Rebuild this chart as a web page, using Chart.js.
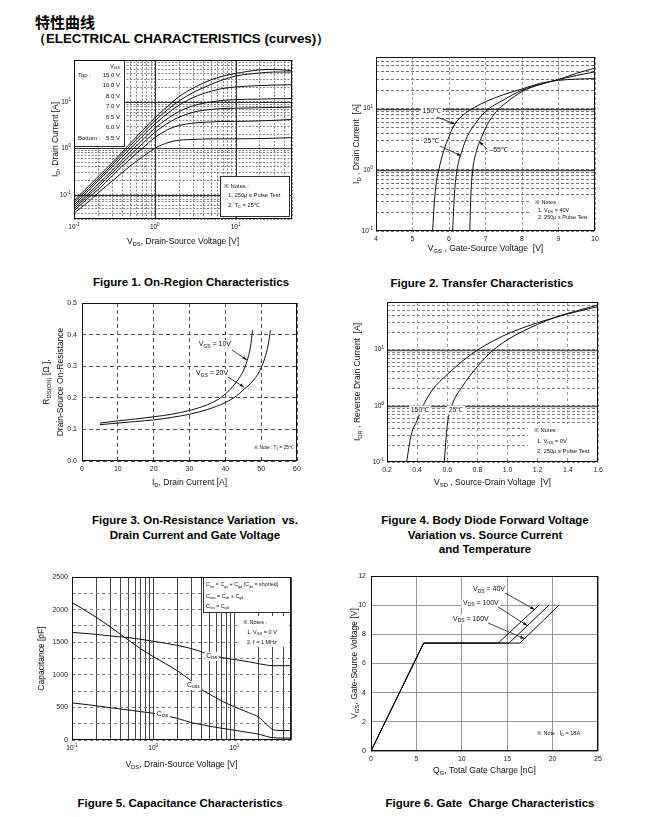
<!DOCTYPE html>
<html>
<head>
<meta charset="utf-8">
<title>特性曲线</title>
<script src="https://cdn.jsdelivr.net/npm/chart.js@4.4.1/dist/chart.umd.min.js"></script>
<style>
  html, body { margin: 0; padding: 0; background: #fff; }
  body { position: relative; width: 652px; height: 817px; overflow: hidden; font-family: "Liberation Sans", Arial, sans-serif; color: #000; }
  .hd { position: absolute; font-weight: bold; white-space: nowrap; line-height: 1; }
  .cap { position: absolute; width: 300px; margin-left: -150px; text-align: center; font-weight: bold; font-size: 11.5px; line-height: 14.5px; white-space: nowrap; }
  canvas { position: absolute; }
</style>
</head>
<body>
<div class="hd" style="left:35px;top:14px;font-size:15px;font-family:'Noto Sans CJK SC',sans-serif">特性曲线</div>
<div class="hd" style="left:33px;top:32px;font-size:13.3px">（ELECTRICAL CHARACTERISTICS (curves)）</div>
<div class="cap" style="left:191px;top:275px">Figure 1. On-Region Characteristics</div>
<div class="cap" style="left:482px;top:276px">Figure 2. Transfer Characteristics</div>
<div class="cap" style="left:195px;top:513px">Figure 3. On-Resistance Variation&nbsp; vs.<br>Drain Current and Gate Voltage</div>
<div class="cap" style="left:485px;top:513px">Figure 4. Body Diode Forward Voltage<br>Variation vs. Source Current<br>and Temperature</div>
<div class="cap" style="left:180px;top:796px">Figure 5. Capacitance Characteristics</div>
<div class="cap" style="left:490px;top:796px">Figure 6. Gate&nbsp; Charge Characteristics</div>

<script>
const FONT = '"Liberation Sans", Arial, sans-serif';

// ---- Figure 1: on-region characteristics ----
const vdsOn = [0.1, 0.15, 0.2, 0.3, 0.5, 0.7, 1, 1.5, 2, 3, 5, 7, 10, 20, 30, 50];
const vgsSteps = ['15.0 V', '10.0 V', '8.0 V', '7.0 V', '6.5 V', '6.0 V', '5.5 V'];
const idVgs15 = [0.075, 0.15, 0.25, 0.5, 1.3, 2.4, 4.5, 8.5, 13, 20, 30, 36, 41, 49, 50, 47];
const idVgs10 = [0.068, 0.135, 0.22, 0.45, 1.15, 2.1, 3.9, 7.2, 10.5, 16, 24, 30, 36, 42, 44, 44];
const idVgs8 = [0.06, 0.12, 0.2, 0.4, 1.0, 1.8, 3.3, 6, 8.5, 12.5, 17, 19.5, 21, 22.5, 23, 23.5];
const idVgs7 = [0.055, 0.105, 0.17, 0.34, 0.85, 1.5, 2.7, 4.6, 6.2, 8.3, 10, 10.8, 11.2, 11.5, 11.7, 11.8];
const idVgs65 = [0.05, 0.095, 0.15, 0.3, 0.72, 1.25, 2.2, 3.6, 4.7, 6, 6.9, 7.2, 7.3, 7.5, 7.6, 7.7];
const idVgs6 = [0.045, 0.085, 0.13, 0.26, 0.6, 1.0, 1.7, 2.6, 3.1, 3.5, 3.7, 3.8, 3.8, 3.9, 4.0, 4.2];
const idVgs55 = [0.04, 0.07, 0.11, 0.2, 0.42, 0.65, 1.0, 1.35, 1.5, 1.55, 1.6, 1.6, 1.6, 1.62, 1.65, 1.7];
const fig1XLabels = [0.1, 1, 10];
const fig1YLabels = [0.1, 1, 10];

// ---- Figure 2: transfer characteristics ----
const vgs150 = [5.55, 5.6, 5.65, 5.72, 5.85, 6.0, 6.15, 6.4, 6.7, 7.0, 7.5, 8.0, 8.5, 9.0, 9.5, 10];
const id150 = [0.1, 0.3, 0.6, 1, 2, 3.5, 5.5, 8, 10.5, 13, 17, 21, 26, 29, 30.5, 31];
const vgs25 = [6.1, 6.15, 6.22, 6.35, 6.5, 6.7, 7.0, 7.5, 8.0, 8.5, 9.0, 9.5, 10];
const id25 = [0.1, 0.4, 1, 2, 3.5, 5.5, 9, 14, 20, 25, 30, 35, 40];
const vgsM55 = [6.57, 6.6, 6.65, 6.75, 6.9, 7.05, 7.3, 7.6, 8.0, 8.5, 9.0, 9.5, 10];
const idM55 = [0.1, 0.4, 1, 2, 3.5, 5.5, 9, 13, 19, 25, 30, 38, 46];
const fig2XTicks = [4, 5, 6, 7, 8, 9, 10];
const fig2YLabels = [0.1, 1, 10];

// ---- Figure 3: on-resistance vs drain current ----
const idR10 = [5, 10, 15, 20, 25, 30, 35, 38, 40, 42, 44, 45, 46, 47, 47.6];
const rds10 = [0.12, 0.127, 0.133, 0.14, 0.148, 0.16, 0.178, 0.195, 0.212, 0.235, 0.265, 0.285, 0.315, 0.36, 0.414];
const idR20 = [5, 10, 15, 20, 25, 30, 35, 40, 43, 45, 47, 48.5, 50, 51, 52, 52.6];
const rds20 = [0.115, 0.12, 0.125, 0.13, 0.138, 0.148, 0.163, 0.185, 0.205, 0.225, 0.245, 0.265, 0.295, 0.325, 0.37, 0.414];
const fig3XTicks = [0, 10, 20, 30, 40, 50, 60];
const fig3YTicks = [0, 0.1, 0.2, 0.3, 0.4, 0.5];

// ---- Figure 4: body diode forward voltage ----
const vsd150 = [0.33, 0.36, 0.4, 0.44, 0.5, 0.6, 0.7, 0.8, 0.9, 1.0, 1.2, 1.4, 1.6];
const idr150 = [0.1, 0.3, 0.55, 1, 1.9, 3.6, 6.2, 9.8, 14, 19, 30, 43, 58];
const vsd25 = [0.58, 0.6, 0.63, 0.7, 0.8, 0.9, 1.0, 1.1, 1.2, 1.3, 1.4, 1.6];
const idr25 = [0.1, 0.45, 1.0, 2.2, 5, 9.5, 15, 21, 28, 36, 44, 62];
const fig4XTicks = [0.2, 0.4, 0.6, 0.8, 1.0, 1.2, 1.4, 1.6];
const fig4YLabels = [0.1, 1, 10];

// ---- Figure 5: capacitance ----
const vdsCap = [0.1, 0.2, 0.3, 0.5, 0.7, 1, 2, 3, 4, 5, 7, 10, 15, 20, 25, 30, 40, 50];
const ciss = [1650, 1620, 1595, 1570, 1545, 1515, 1450, 1400, 1350, 1310, 1265, 1235, 1200, 1170, 1150, 1140, 1140, 1140];
const coss = [2110, 1880, 1730, 1530, 1400, 1280, 1060, 900, 770, 700, 600, 510, 420, 350, 240, 160, 145, 145];
const crss = [570, 525, 495, 460, 435, 410, 330, 265, 235, 210, 180, 150, 115, 90, 55, 35, 30, 30];
const fig5XLabels = [0.1, 1, 10];
const fig5YGrid = [0, 250, 500, 750, 1000, 1250, 1500, 1750, 2000, 2250, 2500];
const fig5YLabels = [0, 500, 1000, 1500, 2000, 2500];

// ---- Figure 6: gate charge ----
const qg40 = [0, 5.8, 14.0, 18.5];
const qg100 = [0, 5.8, 15.2, 19.6];
const qg160 = [0, 5.8, 16.4, 20.7];
const vgsQ = [0, 7.4, 7.4, 10.0];
const fig6XTicks = [0, 5, 10, 15, 20, 25];
const fig6YTicks = [0, 2, 4, 6, 8, 10, 12];

// ---------- helpers ----------
function logGrid(min, max) {
  const out = [];
  for (let e = Math.floor(Math.log10(min)); e <= Math.ceil(Math.log10(max)); e++) {
    for (let m = 1; m < 10; m++) {
      const v = +(m * Math.pow(10, e)).toPrecision(6);
      if (v >= min * 0.9999 && v <= max * 1.0001) out.push(v);
    }
  }
  if (out[0] > min) out.unshift(min);
  if (out[out.length - 1] < max) out.push(max);
  return out;
}

function pts(xs, ys) { return xs.map((x, i) => ({ x: x, y: ys[i] })); }

function parseRich(s) {
  const out = []; let buf = ''; let i = 0;
  while (i < s.length) {
    const c = s[i];
    if ((c === '_' || c === '^') && s[i + 1] === '{') {
      if (buf) out.push([buf, 0]);
      buf = '';
      const j = s.indexOf('}', i);
      out.push([s.slice(i + 2, j), c === '_' ? 1 : 2]);
      i = j + 1;
    } else { buf += c; i++; }
  }
  if (buf) out.push([buf, 0]);
  return out;
}

function richWidth(ctx, s, size) {
  let w = 0;
  parseRich(s).forEach(p => {
    ctx.font = (p[1] ? size * 0.7 : size) + 'px ' + FONT;
    w += ctx.measureText(p[0]).width;
  });
  return w;
}

function drawRich(ctx, s, x, y, size, align) {
  const w = richWidth(ctx, s, size);
  let cx = align === 'center' ? x - w / 2 : align === 'right' ? x - w : x;
  ctx.textAlign = 'left';
  ctx.textBaseline = 'middle';
  ctx.fillStyle = '#111';
  parseRich(s).forEach(p => {
    ctx.font = (p[1] ? size * 0.7 : size) + 'px ' + FONT;
    const dy = p[1] === 1 ? size * 0.3 : p[1] === 2 ? -size * 0.35 : 0;
    ctx.fillText(p[0], cx, y + dy);
    cx += ctx.measureText(p[0]).width;
  });
  return w;
}

function arrow(ctx, x1, y1, x2, y2) {
  ctx.beginPath(); ctx.moveTo(x1, y1); ctx.lineTo(x2, y2); ctx.stroke();
  const ang = Math.atan2(y2 - y1, x2 - x1), h = 4.5;
  ctx.beginPath();
  ctx.moveTo(x2, y2);
  ctx.lineTo(x2 - h * Math.cos(ang - 0.35), y2 - h * Math.sin(ang - 0.35));
  ctx.lineTo(x2 - h * Math.cos(ang + 0.35), y2 - h * Math.sin(ang + 0.35));
  ctx.closePath(); ctx.fill();
}

function scaleOpts(ax, horiz, fixed) {
  return {
    type: ax.log ? 'logarithmic' : 'linear',
    min: ax.min, max: ax.max,
    afterBuildTicks: s => { s.ticks = ax.grid.map(v => ({ value: v })); },
    afterFit: s => {
      if (horiz) { s.height = fixed; s.paddingLeft = 0; s.paddingRight = 0; }
      else { s.width = fixed; s.paddingTop = 0; s.paddingBottom = 0; }
    },
    grid: { color: ax.color || '#888', lineWidth: 1, drawTicks: false },
    border: { display: false, dash: ax.dash || [] },
    ticks: {
      display: !ax.log, autoSkip: false, maxRotation: 0, padding: ax.pad || 4,
      color: '#222', font: { family: FONT, size: 7 },
      callback: v => (ax.labels.indexOf(v) >= 0 ? (ax.dec != null ? v.toFixed(ax.dec) : String(v)) : '')
    }
  };
}

function deco(f) {
  const ox = f.canvas.x, oy = f.canvas.y;
  return {
    id: 'deco',
    beforeDatasetsDraw(chart) {
      const { ctx, chartArea: a, scales } = chart;
      ctx.save();
      ctx.setLineDash([]);
      if (f.major) {
        ctx.strokeStyle = f.major.color || '#222';
        ctx.lineWidth = f.major.w || 1;
        (f.major.x || []).forEach(v => {
          const px = Math.round(scales.x.getPixelForValue(v)) + 0.5;
          ctx.beginPath(); ctx.moveTo(px, a.top); ctx.lineTo(px, a.bottom); ctx.stroke();
        });
        (f.major.y || []).forEach(v => {
          const py = Math.round(scales.y.getPixelForValue(v)) + 0.5;
          ctx.beginPath(); ctx.moveTo(a.left, py); ctx.lineTo(a.right, py); ctx.stroke();
        });
      }
      (f.boxes || []).forEach(b => {
        const l = b.l - ox, t = b.t - oy, w = b.r - b.l, h = b.b - b.t;
        ctx.fillStyle = '#fff';
        ctx.fillRect(l, t, w, h);
        if (b.border) {
          ctx.strokeStyle = '#333'; ctx.lineWidth = 1;
          ctx.strokeRect(Math.round(l) + 0.5, Math.round(t) + 0.5, Math.round(w) - 1, Math.round(h) - 1);
        }
      });
      ctx.restore();
    },
    afterDatasetsDraw(chart) {
      const { ctx, chartArea: a, scales: { x, y } } = chart;
      ctx.save();
      ctx.setLineDash([]);
      ctx.strokeStyle = '#111'; ctx.lineWidth = 1;
      ctx.strokeRect(Math.round(a.left) + 0.5, Math.round(a.top) + 0.5,
        Math.round(a.right - a.left) - 1, Math.round(a.bottom - a.top) - 1);

      // curve labels with white knock-out
      (f.labels || []).forEach(lb => {
        const px = x.getPixelForValue(lb.x), py = y.getPixelForValue(lb.y);
        const s = lb.s || 7;
        const w = richWidth(ctx, lb.t, s);
        ctx.fillStyle = '#fff';
        ctx.fillRect(px - w / 2 - 1.5, py - s * 0.6, w + 3, s * 1.3);
        drawRich(ctx, lb.t, px, py, s, 'center');
      });
      ctx.strokeStyle = '#111'; ctx.fillStyle = '#111'; ctx.lineWidth = 0.8;
      (f.arrows || []).forEach(ar => {
        arrow(ctx, x.getPixelForValue(ar[0]), y.getPixelForValue(ar[1]),
          x.getPixelForValue(ar[2]), y.getPixelForValue(ar[3]));
      });
      (f.texts || []).forEach(tx => {
        drawRich(ctx, tx.t, tx.x - ox, tx.y - oy, tx.s || 6, tx.a || 'left');
      });

      // log tick labels 10^n
      if (f.x.log) f.x.labels.forEach(v => {
        drawRich(ctx, '10^{' + Math.round(Math.log10(v)) + '}', x.getPixelForValue(v), a.bottom + 8, 6.5, 'center');
      });
      if (f.y.log) f.y.labels.forEach(v => {
        drawRich(ctx, '10^{' + Math.round(Math.log10(v)) + '}', a.left - 3, y.getPixelForValue(v), 6.5, 'right');
      });

      // axis titles
      drawRich(ctx, f.xTitle.t, (a.left + a.right) / 2 + (f.xTitle.dx || 0), a.bottom + f.xTitle.dy, 8.5, 'center');
      f.yTitle.forEach(yt => {
        ctx.save();
        ctx.translate(a.left - yt.dx, (a.top + a.bottom) / 2 + (yt.dy || 0));
        ctx.rotate(-Math.PI / 2);
        drawRich(ctx, yt.t, 0, 0, 8.5, 'center');
        ctx.restore();
      });
      ctx.restore();
    }
  };
}

function build(f) {
  const c = document.createElement('canvas');
  c.width = f.canvas.w; c.height = f.canvas.h;
  c.style.left = f.canvas.x + 'px'; c.style.top = f.canvas.y + 'px';
  c.style.width = f.canvas.w + 'px'; c.style.height = f.canvas.h + 'px';
  document.body.appendChild(c);
  const p = f.plot, r = f.canvas;
  new Chart(c, {
    type: 'line',
    data: {
      datasets: f.series.map(s => ({
        data: pts(s[0], s[1]),
        borderColor: '#111', borderWidth: 1, pointRadius: 0, fill: false,
        tension: 0, cubicInterpolationMode: f.smooth ? 'monotone' : 'default'
      }))
    },
    options: {
      responsive: false, animation: false, events: [],
      layout: { padding: { left: 0, top: p.t - r.y, right: r.x + r.w - p.r, bottom: 0 } },
      plugins: { legend: { display: false }, tooltip: { enabled: false } },
      scales: {
        x: scaleOpts(f.x, true, r.y + r.h - p.b),
        y: scaleOpts(f.y, false, p.l - r.x)
      }
    },
    plugins: [deco(f)]
  });
}

// ---------- figure layouts ----------
const fig1 = {
  canvas: { x: 20, y: 50, w: 290, h: 205 }, plot: { l: 74, t: 60, r: 292, b: 219 },
  x: { log: true, min: 0.1, max: 50, grid: logGrid(0.1, 50), labels: fig1XLabels, dash: [2, 1.5], color: '#888' },
  y: { log: true, min: 0.03, max: 80, grid: logGrid(0.03, 80), labels: fig1YLabels, dash: [2, 1.5], color: '#888' },
  major: { x: [1, 10], y: [0.1, 1, 10], color: '#333' },
  smooth: true,
  series: [[vdsOn, idVgs15], [vdsOn, idVgs10], [vdsOn, idVgs8], [vdsOn, idVgs7], [vdsOn, idVgs65], [vdsOn, idVgs6], [vdsOn, idVgs55]],
  xTitle: { t: 'V_{DS}, Drain-Source Voltage [V]', dy: 23 },
  yTitle: [{ t: 'I_{D}, Drain Current [A]', dx: 18 }],
  boxes: [{ l: 74, t: 60, r: 125, b: 147, border: true }, { l: 220, t: 176, r: 290, b: 217, border: true }],
  texts: [{ t: 'V_{GS}', x: 120, y: 66, a: 'right' }, { t: 'Top :', x: 78, y: 75 }, { t: 'Bottom :', x: 78, y: 138 },
    { t: '※ Notes :', x: 224, y: 186, s: 5.8 }, { t: '1. 250\u03bc s Pulse Test', x: 228, y: 195.5, s: 5.8 },
    { t: '2. T_{C} = 25\u2103', x: 228, y: 205, s: 5.8 }]
    .concat(vgsSteps.map((s, i) => ({ t: s, x: 120, y: 75 + i * 10.5, a: 'right' })))
};

const fig2 = {
  canvas: { x: 330, y: 45, w: 280, h: 212 }, plot: { l: 376, t: 57, r: 595, b: 231 },
  x: { min: 4, max: 10, grid: fig2XTicks, labels: fig2XTicks, dash: [3, 2], color: '#999' },
  y: { log: true, min: 0.1, max: 70, grid: logGrid(0.1, 70), labels: fig2YLabels, dash: [3, 2], color: '#777' },
  major: { y: [1, 10], w: 1.6, color: '#444' },
  smooth: true,
  series: [[vgs150, id150], [vgs25, id25], [vgsM55, idM55]],
  xTitle: { t: 'V_{GS} , Gate-Source Voltage  [V]', dy: 18 },
  yTitle: [{ t: 'I_{D} , Drain Current  [A]', dx: 19 }],
  labels: [{ t: '150\u2103', x: 5.53, y: 9.0 }, { t: '25\u2103', x: 5.51, y: 2.95 }, { t: '\u201355\u2103', x: 7.36, y: 2.1 }],
  arrows: [[5.67, 7.3, 6.16, 5.6], [5.75, 2.45, 6.33, 1.7], [7.05, 2.16, 6.83, 2.9]],
  boxes: [{ l: 530, t: 196, r: 594, b: 223 }],
  texts: [{ t: '※ Notes :', x: 535, y: 202.5, s: 5.5 }, { t: '1. V_{DS} = 40V', x: 538, y: 210, s: 5.5 },
    { t: '2. 250\u03bc s Pulse Test', x: 538, y: 217, s: 5.5 }]
};

const fig3 = {
  canvas: { x: 20, y: 293, w: 290, h: 200 }, plot: { l: 82, t: 303, r: 297, b: 461 },
  x: { min: 0, max: 60, grid: fig3XTicks, labels: fig3XTicks, dash: [4, 3], color: '#555' },
  y: { min: 0, max: 0.5, grid: fig3YTicks, labels: fig3YTicks, dec: 1, dash: [4, 3], color: '#555', pad: 5 },
  smooth: true,
  series: [[idR10, rds10], [idR20, rds20]],
  xTitle: { t: 'I_{D}, Drain Current [A]', dy: 22 },
  yTitle: [{ t: 'R_{DS(ON)} [\u03a9 ],', dx: 35 }, { t: 'Drain-Source On-Resistance', dx: 21 }],
  labels: [{ t: 'V_{GS} = 10V', x: 37.1, y: 0.37 }, { t: 'V_{GS} = 20V', x: 36.3, y: 0.278 }],
  arrows: [[41.9, 0.351, 46.0, 0.32], [40.7, 0.266, 45.2, 0.234]],
  boxes: [{ l: 256, t: 443, r: 295, b: 454 }],
  texts: [{ t: '※ Note : T_{J} = 25\u2103', x: 294, y: 448, s: 4.8, a: 'right' }]
};

const fig4 = {
  canvas: { x: 330, y: 292, w: 285, h: 200 }, plot: { l: 387, t: 302, r: 598, b: 462 },
  x: { min: 0.2, max: 1.6, grid: fig4XTicks, labels: fig4XTicks, dec: 1, dash: [3, 3], color: '#999' },
  y: { log: true, min: 0.1, max: 70, grid: logGrid(0.1, 70), labels: fig4YLabels, dash: [3, 2], color: '#888' },
  major: { y: [1, 10], w: 1.6, color: '#555' },
  smooth: true,
  series: [[vsd150, idr150], [vsd25, idr25]],
  xTitle: { t: 'V_{SD} , Source-Drain Voltage  [V]', dy: 21 },
  yTitle: [{ t: 'I_{DR} , Reverse Drain Current  [A]', dx: 29 }],
  labels: [{ t: '150\u2103', x: 0.419, y: 0.85 }, { t: '25\u2103', x: 0.658, y: 0.85 }],
  boxes: [{ l: 528, t: 424, r: 596, b: 458 }],
  texts: [{ t: '※ Notes :', x: 534, y: 430, s: 5.8 }, { t: '1. V_{GS} = 0V', x: 537, y: 441, s: 5.8 },
    { t: '2. 250\u03bc s Pulse Test', x: 537, y: 451, s: 5.8 }]
};

const fig5 = {
  canvas: { x: 20, y: 568, w: 290, h: 205 }, plot: { l: 72, t: 577, r: 291, b: 740 },
  x: { log: true, min: 0.1, max: 50, grid: logGrid(0.1, 50), labels: fig5XLabels, color: '#444' },
  y: { min: 0, max: 2500, grid: fig5YGrid, labels: fig5YLabels, dash: [3, 3], color: '#777' },
  smooth: true,
  series: [[vdsCap, ciss], [vdsCap, coss], [vdsCap, crss]],
  xTitle: { t: 'V_{DS}, Drain-Source Voltage [V]', dy: 25 },
  yTitle: [{ t: 'Capacitance [pF]', dx: 30 }],
  labels: [{ t: 'C_{iss}', x: 5.27, y: 1288 }, { t: 'C_{oss}', x: 3.13, y: 843 }, { t: 'C_{rss}', x: 1.3, y: 399 }],
  boxes: [{ l: 203, t: 577, r: 291, b: 613, border: true }, { l: 240, t: 616, r: 289, b: 647 }],
  texts: [{ t: 'C_{iss} = C_{gs} + C_{gd} (C_{ds} = shorted)', x: 206, y: 585, s: 5.3 },
    { t: 'C_{oss} = C_{ds} + C_{gd}', x: 206, y: 596.5, s: 5.3 }, { t: 'C_{rss} = C_{gd}', x: 206, y: 606.5, s: 5.3 },
    { t: '※ Notes :', x: 243, y: 622, s: 5.5 }, { t: '1. V_{GS} = 0 V', x: 247, y: 632, s: 5.5 },
    { t: '2. f = 1 MHz', x: 247, y: 642, s: 5.5 }]
};

const fig6 = {
  canvas: { x: 330, y: 566, w: 285, h: 212 }, plot: { l: 371, t: 576, r: 598, b: 751 },
  x: { min: 0, max: 25, grid: fig6XTicks, labels: fig6XTicks, color: '#999' },
  y: { min: 0, max: 12, grid: fig6YTicks, labels: fig6YTicks, color: '#999', pad: 5 },
  series: [[qg40, vgsQ], [qg100, vgsQ], [qg160, vgsQ]],
  xTitle: { t: 'Q_{G}, Total Gate Charge [nC]', dy: 20 },
  yTitle: [{ t: 'V_{GS}, Gate-Source Voltage [V]', dx: 16 }],
  labels: [{ t: 'V_{DS} = 40V', x: 13.0, y: 11.1 }, { t: 'V_{DS} = 100V', x: 12.1, y: 10.15 }, { t: 'V_{DS} = 160V', x: 11.0, y: 9.05 }],
  arrows: [[14.76, 10.84, 18.0, 9.7], [13.99, 9.88, 17.2, 8.6], [12.9, 8.78, 16.9, 7.7]],
  texts: [{ t: '※ Note : I_{D} = 18A', x: 537, y: 733, s: 5.5 }]
};

[fig1, fig2, fig3, fig4, fig5, fig6].forEach(build);
</script>
</body>
</html>
